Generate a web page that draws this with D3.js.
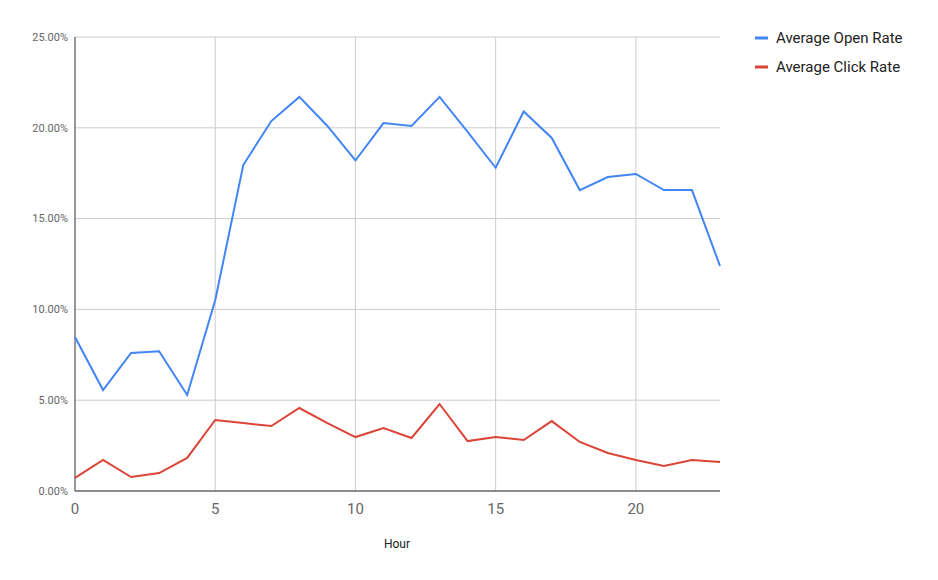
<!DOCTYPE html>
<html>
<head>
<meta charset="utf-8">
<script src="https://cdn.jsdelivr.net/npm/d3@7"></script>
<style>
  body { margin: 0; background: #fff; font-family: Roboto, sans-serif; }
</style>
</head>
<body>
<svg id="chart" width="938" height="580"></svg>
<script>
const hours = d3.range(0, 24)
const openRate = [8.48, 5.56, 7.6, 7.7, 5.29, 10.5, 17.95, 20.37, 21.7, 20.1, 18.2, 20.26,
  20.1, 21.7, 19.77, 17.8, 20.9, 19.44, 16.57, 17.29, 17.46, 16.57, 16.57, 12.39]
const clickRate = [0.72, 1.71, 0.77, 0.99, 1.82, 3.91, 3.74, 3.58, 4.57, 3.74, 2.97, 3.47,
  2.92, 4.79, 2.75, 2.97, 2.81, 3.85, 2.7, 2.09, 1.71, 1.38, 1.71, 1.6]
const xTicks = [0, 5, 10, 15, 20]
const yTicks = [0, 5, 10, 15, 20, 25]
const series = [
  { name: 'Average Open Rate', values: openRate, color: '#4285f4' },
  { name: 'Average Click Rate', values: clickRate, color: '#db4437' }
]

const margin = { top: 37, right: 218, bottom: 89, left: 75 }
const width = 938, height = 580
const aWidth = width - margin.left - margin.right
const aHeight = height - margin.top - margin.bottom

const svg = d3.select('#chart')
const g = svg.append('g').attr('transform', `translate(${margin.left},${margin.top})`)

const x = d3.scaleLinear().domain([0, 23]).range([0, aWidth])
const y = d3.scaleLinear().domain([0, 25]).range([aHeight, 0])

// gridlines
g.selectAll('.hgrid').data(yTicks).enter().append('line')
  .attr('x1', 0).attr('x2', aWidth)
  .attr('y1', d => y(d)).attr('y2', d => y(d))
  .attr('stroke', '#cccccc')
g.selectAll('.vgrid').data(xTicks).enter().append('line')
  .attr('x1', d => x(d)).attr('x2', d => x(d))
  .attr('y1', 0).attr('y2', aHeight)
  .attr('stroke', d => d === 0 ? '#333' : '#cccccc')

// y labels
g.selectAll('.ylab').data(yTicks).enter().append('text')
  .attr('x', -7).attr('y', d => y(d)).attr('dy', '0.35em')
  .attr('text-anchor', 'end')
  .attr('font-size', 11).attr('fill', '#666')
  .text(d => d.toFixed(2) + '%')

// x labels
g.selectAll('.xlab').data(xTicks).enter().append('text')
  .attr('x', d => x(d)).attr('y', aHeight + 23)
  .attr('text-anchor', 'middle')
  .attr('font-size', 15).attr('fill', '#666')
  .text(d => d)

g.append('line').attr('x1', 0).attr('x2', aWidth)
  .attr('y1', aHeight).attr('y2', aHeight).attr('stroke', '#333')

g.append('text').attr('x', 322).attr('y', aHeight + 57)
  .attr('text-anchor', 'middle').attr('font-size', 12).attr('fill', '#222')
  .text('Hour')

const line = d3.line().x((d, i) => x(hours[i])).y(d => y(d))
series.forEach(s => {
  g.append('path').datum(s.values)
    .attr('d', line).attr('fill', 'none')
    .attr('stroke', s.color).attr('stroke-width', 2)
})

// legend
const legend = svg.append('g').attr('transform', 'translate(755,38)')
series.forEach((s, i) => {
  const row = legend.append('g').attr('transform', `translate(0,${i * 29})`)
  row.append('line').attr('x1', 0).attr('x2', 13).attr('stroke', s.color).attr('stroke-width', 3)
  row.append('text').attr('x', 21).attr('dy', '0.35em')
    .attr('font-size', 15).attr('fill', '#222').text(s.name)
})
</script>
</body>
</html>
